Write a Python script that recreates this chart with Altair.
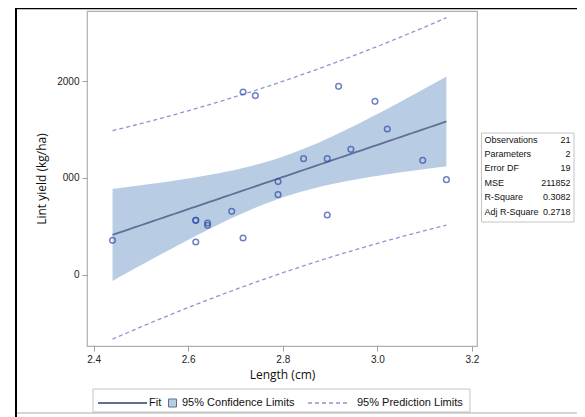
import altair as alt
import numpy as np
import pandas as pd

# ---- data ----
length = [2.44, 2.616, 2.616, 2.616, 2.641, 2.641, 2.692, 2.716, 2.716, 2.742, 2.79,
          2.79, 2.844, 2.894, 2.894, 2.918, 2.944, 2.995, 3.021, 3.096, 3.146]
lint_yield = [354, 561, 561, 337, 533, 509, 654, 1886, 378, 1849, 961,
              826, 1198, 1198, 616, 1945, 1294, 1790, 1504, 1181, 981]

stat_labels = ["Observations", "Parameters", "Error DF", "MSE", "R-Square", "Adj R-Square"]
stat_values = ["21", "2", "19", "211852", "0.3082", "0.2718"]
x_ticks = [2.4, 2.6, 2.8, 3.0, 3.2]
y_ticks = [0, 1000, 2000]
legend_labels = ["Fit", "95% Confidence Limits", "95% Prediction Limits"]
T_CRIT = 2.093  # t quantile (0.975, 19 df)

# ---- linear regression with confidence / prediction limits ----
xa = np.array(length, dtype=float)
ya = np.array(lint_yield, dtype=float)
n = len(xa)
b1, b0 = np.polyfit(xa, ya, 1)
resid = ya - (b0 + b1 * xa)
mse = (resid ** 2).sum() / (n - 2)
sxx = ((xa - xa.mean()) ** 2).sum()
grid = np.linspace(xa.min(), xa.max(), 60)
fit = b0 + b1 * grid
se_m = np.sqrt(mse * (1 / n + (grid - xa.mean()) ** 2 / sxx))
se_p = np.sqrt(mse * (1 + 1 / n + (grid - xa.mean()) ** 2 / sxx))
curve = pd.DataFrame({
    "x": grid, "fit": fit,
    "lcl": fit - T_CRIT * se_m, "ucl": fit + T_CRIT * se_m,
    "lpl": fit - T_CRIT * se_p, "upl": fit + T_CRIT * se_p,
})
pts = pd.DataFrame({"x": length, "y": lint_yield})
one = pd.DataFrame({"a": [0]})

W, H = 390, 335
AX_FONT = "Liberation Sans"
TITLE_FONT = "Open Sans"

xs = alt.Scale(domain=[2.386, 3.2107], nice=False, zero=False)
ys = alt.Scale(domain=[-737, 2723], nice=False, zero=False)


def X(field="x"):
    return alt.X(f"{field}:Q", scale=xs,
                 axis=alt.Axis(values=x_ticks, format=".1f", title="Length (cm)",
                               titlePadding=5))


def Y(field):
    return alt.Y(f"{field}:Q", scale=ys,
                 axis=alt.Axis(values=y_ticks, format="d", title="Lint yield (kg/ha)",
                               titlePadding=8,
                               labelExpr="datum.value == 1000 ? '000' : datum.label"))


band = alt.Chart(curve).mark_area(color="#b8cce4", opacity=1).encode(
    x=X(), y=Y("lcl"), y2="ucl")
pl_lo = alt.Chart(curve).mark_line(color="#8f94d4", strokeDash=[4, 3], strokeWidth=1.3).encode(
    x=X(), y=Y("lpl"))
pl_hi = alt.Chart(curve).mark_line(color="#8f94d4", strokeDash=[4, 3], strokeWidth=1.3).encode(
    x=X(), y=Y("upl"))
fit_line = alt.Chart(curve).mark_line(color="#5f7095", strokeWidth=1.8).encode(
    x=X(), y=Y("fit"))
points = alt.Chart(pts).mark_point(shape="circle", filled=False, color="#2f50a8",
                                    size=32, strokeWidth=1.5).encode(x=X(), y=Y("y"))

# ---- statistics table ----
tbl_box = alt.Chart(one).mark_rect(fill="white", stroke="#c4c4c4", strokeWidth=1).encode(
    x=alt.value(394.5), x2=alt.value(487), y=alt.value(122), y2=alt.value(211))
tbl_lab = alt.Chart(one).mark_text(align="left", baseline="top", font=AX_FONT, fontSize=9,
                                   lineHeight=14.4, color="#111").encode(
    x=alt.value(397.5), y=alt.value(124.5), text=alt.value(stat_labels))
tbl_val = alt.Chart(one).mark_text(align="right", baseline="top", font=AX_FONT, fontSize=9,
                                   lineHeight=14.4, color="#111").encode(
    x=alt.value(483.5), y=alt.value(124.5), text=alt.value(stat_values))

# ---- legend ----
LY = 392
leg_box = alt.Chart(one).mark_rect(fill="white", stroke="#c4c4c4", strokeWidth=1).encode(
    x=alt.value(6), x2=alt.value(383), y=alt.value(378), y2=alt.value(401))
leg_fit = alt.Chart(one).mark_rule(color="#5f7095", strokeWidth=1.8).encode(
    x=alt.value(11), x2=alt.value(60), y=alt.value(LY))
leg_sq = alt.Chart(one).mark_rect(fill="#b8cce4", stroke="#5f7095", strokeWidth=1).encode(
    x=alt.value(81.5), x2=alt.value(89.5), y=alt.value(LY - 4), y2=alt.value(LY + 4))
leg_pl = alt.Chart(one).mark_rule(color="#8f94d4", strokeDash=[4, 3], strokeWidth=1.3).encode(
    x=alt.value(221), x2=alt.value(261), y=alt.value(LY))
leg_t1 = alt.Chart(one).mark_text(align="left", baseline="middle", font=AX_FONT, fontSize=11,
                                  color="#111").encode(
    x=alt.value(62), y=alt.value(LY), text=alt.value(legend_labels[0]))
leg_t2 = alt.Chart(one).mark_text(align="left", baseline="middle", font=AX_FONT, fontSize=11,
                                  color="#111").encode(
    x=alt.value(95), y=alt.value(LY), text=alt.value(legend_labels[1]))
leg_t3 = alt.Chart(one).mark_text(align="left", baseline="middle", font=AX_FONT, fontSize=11,
                                  color="#111").encode(
    x=alt.value(270), y=alt.value(LY), text=alt.value(legend_labels[2]))

# ---- outer frame ----
frame_left = alt.Chart(one).mark_rule(color="black", strokeWidth=2).encode(
    x=alt.value(-71), y=alt.value(-3), y2=alt.value(406))
frame_top = alt.Chart(one).mark_rule(color="black", strokeWidth=1.5).encode(
    x=alt.value(-72), x2=alt.value(490), y=alt.value(-2.5))
frame_bot = alt.Chart(one).mark_rule(color="#aaaaaa", strokeWidth=1).encode(
    x=alt.value(-70), x2=alt.value(490), y=alt.value(402))

chart = alt.layer(
    band, pl_lo, pl_hi, fit_line, points,
    tbl_box, tbl_lab, tbl_val,
    leg_box, leg_fit, leg_sq, leg_pl, leg_t1, leg_t2, leg_t3,
    frame_left, frame_top, frame_bot,
).properties(
    width=W, height=H,
    autosize=alt.AutoSizeParams(type="none"),
    padding={"left": 79, "top": 3, "right": 100, "bottom": 71},
).configure_view(
    stroke="#b0b0b0", strokeWidth=1.2
).configure_axis(
    grid=False, domain=False, tickColor="#a0a0a0", tickSize=5,
    labelFont=AX_FONT, labelFontSize=10, labelColor="#222", labelPadding=3,
    titleFont=TITLE_FONT, titleFontSize=12, titleFontWeight="normal", titleColor="#111",
)

chart.save("out.html", embed_options={"renderer": "svg", "actions": False})
